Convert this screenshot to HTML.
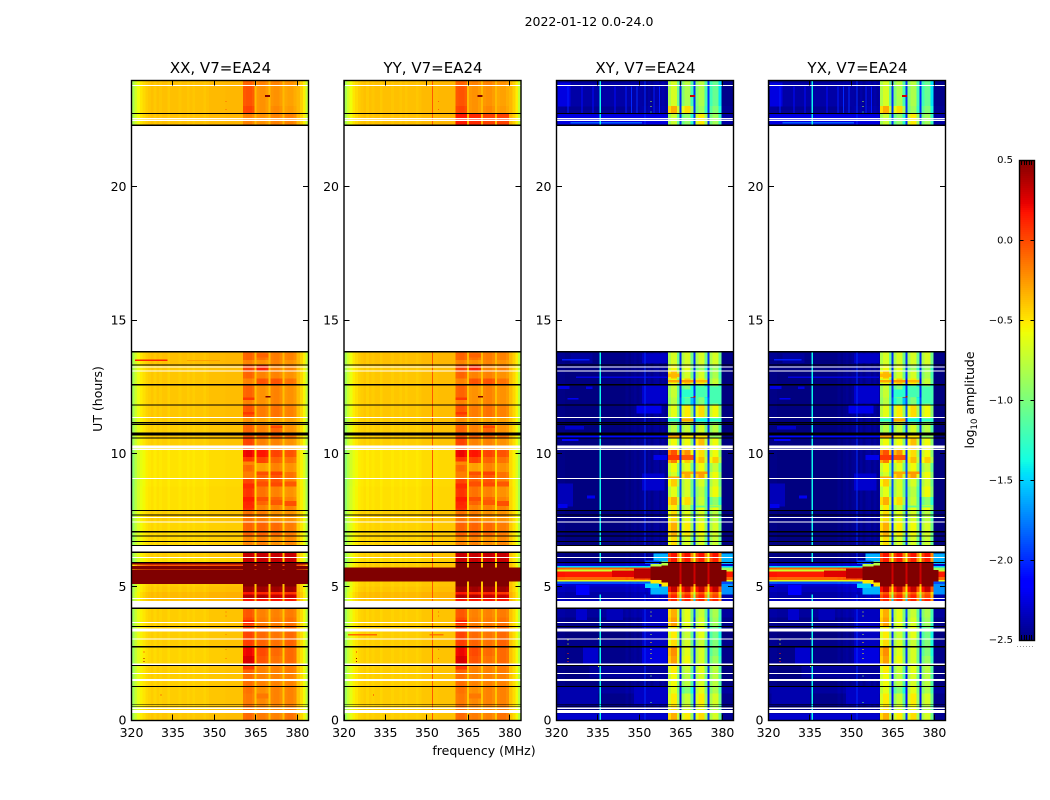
<!DOCTYPE html>
<html lang="en">
<head>
<meta charset="utf-8">
<title>2022-01-12 spectrogram panels</title>
<style>
html,body{margin:0;padding:0;background:#fff}
svg{display:block}
text{font-family:"DejaVu Sans","Liberation Sans",sans-serif;fill:#000}
</style>
</head>
<body>
<svg id="figure" xmlns="http://www.w3.org/2000/svg" width="1050" height="800" viewBox="0 0 1050 800">
  <rect x="0" y="0" width="1050" height="800" fill="#fff"/>
  <text x="589" y="26" font-size="12.5" text-anchor="middle">2022-01-12 0.0-24.0</text>
  <text x="484" y="755" font-size="12.5" text-anchor="middle">frequency (MHz)</text>
  <text transform="translate(102,399) rotate(-90)" font-size="12.5" text-anchor="middle">UT (hours)</text>
  <text transform="translate(974,400) rotate(-90)" font-size="12.5" text-anchor="middle">log<tspan font-size="8.5" dy="3">10</tspan><tspan dy="-3"> amplitude</tspan></text>
  <g id="panels"></g>
  <g id="colorbar"></g>
</svg>
<script>
/* ---------- data ---------- */
const panelTitles = ['XX, V7=EA24', 'YY, V7=EA24', 'XY, V7=EA24', 'YX, V7=EA24'];
const xTicks = [320, 335, 350, 365, 380];
const yTicks = [0, 5, 10, 15, 20];
const colorbarTicks = [0.5, 0, -0.5, -1, -1.5, -2, -2.5];

/* frequency channel edges (MHz) */
const freqEdges = [320,321,322,323,324,325,326,327,328,329,330,331,332,333,334,335,336,337,338,339,
  340,341,342,343,344,345,346,347,348,349,350,351,352,353,354,355,356,357,358,359,360,360.4,
  361.4,362.5,363.5,364.5,365.2,366.3,367.4,368.5,369.6,370.25,371.35,372.45,373.55,374.6,
  375.3,376.4,377.5,378.6,379.7,381,382,383,384];
/* -1 off band, 0..3 receiver band, 9 gap between bands */
const channelBand = [-1,-1,-1,-1,-1,-1,-1,-1,-1,-1,-1,-1,-1,-1,-1,-1,-1,-1,-1,-1,
  -1,-1,-1,-1,-1,-1,-1,-1,-1,-1,-1,-1,-1,-1,-1,-1,-1,-1,-1,-1,-1,
  0,0,0,0,9,1,1,1,1,9,2,2,2,2,9,3,3,3,3,-1,-1,-1,-1];
/* log amplitude offset per channel */
const parallelSpectrum = [-.45,-.3,-.2,-.12,-.08,-.04,-.02,0,-.03,0,-.02,0,0,-.03,0,0,0,-.02,0,0,
  -.02,0,-.02,0,0,0,-.02,0,.02,.02,.02,.02,.02,.02,.03,.03,.03,.03,.03,.03,.03,
  0,.02,.02,-.02,.02,0,.02,.02,-.02,.02,0,.02,.02,-.02,.02,0,.02,.02,-.02,.03,-.05,-.15,-.35];
const crossSpectrum = [.02,.02,.02,0,0,0,0,0,0,0,0,0,0,0,0,0,0,0,0,0,
  0,0,0,0,0,.03,0,.03,.05,.02,.05,.06,.03,.07,.03,.07,.08,.04,.08,.04,.08,
  -.12,.03,.03,-.35,0,-.12,.03,.03,-.35,0,-.12,.03,.03,-.35,0,-.12,.03,.03,-.35,0,0,0,0];

/* time row edges (UT hours) */
const utEdges = [0,.27,.57,1,1.26,1.75,2.05,2.4,2.74,3.03,3.5,3.85,4.19,4.56,4.7,4.8,5,5.1,5.19,5.25,
  5.37,5.57,5.62,5.65,5.72,5.78,5.83,5.9,6.1,6.3,6.55,6.9,7.42,7.85,8.06,8.37,8.75,9.06,9.3,9.63,
  9.87,10.15,10.3,10.6,10.79,11.09,11.34,11.82,12.1,12.57,12.8,13.1,13.32,13.5,13.81,22.31,22.74,23.02,23.77,24];

/* levels per time row: XX */
const xxOff = [-.4,-.42,-.42,-.42,-.42,-.42,-.44,-.44,-.42,-.42,
  -.42,-.42,-.38,-.36,-.36,-.4,-.42,.6,.6,.6,
  .6,.6,-.05,.6,.6,-.05,.6,-.48,-.42,-.4,
  -.45,-.45,-.42,-.48,-.48,-.48,-.49,-.49,-.49,-.49,
  -.49,-.45,-.42,-.4,-.42,-.42,-.4,-.4,-.4,-.4,
  -.4,-.4,-.38,-.38,null,-.38,-.38,-.38,-.38];
const xxBand1 = [-.12,-.15,-.17,-.15,-.14,-.1,.25,.2,.02,0,
  -.02,-.06,.15,.35,.15,.4,.6,.6,.6,.6,
  .6,.6,.6,.6,.6,.6,.6,.3,.3,.1,
  -.22,-.1,-.15,.05,.1,.05,0,-.2,-.12,.05,
  .2,0,0,-.05,-.1,-.25,-.05,-.2,-.1,-.2,
  -.1,0,-.2,-.1,null,-.2,0,-.05,-.1];
const xxBand2 = [-.18,-.22,-.22,-.24,-.2,-.2,-.05,-.02,-.1,-.12,
  -.18,-.2,.15,.35,.1,.4,.6,.6,.6,.6,
  .6,.6,.6,.6,.6,.6,.6,.3,.3,.05,
  -.2,-.1,-.18,-.2,-.1,-.15,-.1,-.1,-.3,0,
  .15,-.2,-.2,-.1,-.2,-.3,-.18,-.25,-.25,-.05,
  -.2,.1,-.25,-.15,null,-.25,-.25,-.25,-.2];
const xxBand3 = [-.2,-.22,-.2,-.2,-.2,-.2,-.15,-.12,-.15,-.16,
  -.18,-.2,.15,.3,.1,.4,.6,.6,.6,.6,
  .6,.6,.6,.6,.6,.6,.6,.3,.3,.05,
  -.25,-.12,-.25,-.2,-.1,-.2,-.05,-.05,-.2,-.1,
  0,-.2,-.2,-.1,-.1,-.3,-.15,-.2,-.2,-.05,
  -.2,-.2,-.2,-.18,null,-.2,-.22,-.25,-.2];
const xxBand4 = [-.15,-.2,-.2,-.2,-.2,-.18,-.12,-.12,-.1,-.12,
  -.15,-.18,.15,.3,.05,.4,.6,.6,.6,.6,
  .6,.6,.6,.6,.6,.6,.6,.3,.3,.05,
  -.22,-.18,-.25,-.2,-.2,-.25,-.2,-.15,-.25,-.15,
  -.05,-.3,-.25,-.15,-.25,-.3,-.2,-.25,-.25,-.15,
  -.25,-.2,-.25,-.2,null,-.2,-.28,-.3,-.25];

/* YY off-band level; bands reuse XX with the top-row override patches below */
const yyOff = [-.42,-.42,-.42,-.42,-.42,-.42,-.42,-.42,-.42,-.42,
  -.42,-.42,-.38,-.36,-.36,-.4,-.42,-.42,.6,.6,
  .6,.6,.6,.6,-.42,-.42,-.42,-.46,-.42,-.4,
  -.44,-.44,-.42,-.48,-.48,-.48,-.49,-.49,-.49,-.49,
  -.49,-.45,-.42,-.4,-.42,-.42,-.4,-.4,-.4,-.4,
  -.4,-.4,-.38,-.38,null,-.38,-.38,-.38,-.38];

/* XY (YX is nearly identical) */
const xyOff = [-2.45,-2.5,-2.47,-2.42,-2.5,-2.5,-2.47,-2.47,-2.47,-2.5,
  -2.47,-2.42,-2.35,-2.4,-2.4,-2.35,-2.3,-1.9,-.6,-.1,
  .15,-.7,-.7,-.1,-1.5,-2.3,-2.4,-2.5,-2.5,-2.5,
  -2.5,-2.5,-2.5,-2.5,-2.5,-2.5,-2.5,-2.5,-2.5,-2.5,
  -2.5,-2.5,-2.5,-2.5,-2.5,-2.5,-2.5,-2.5,-2.5,-2.5,
  -2.5,-2.5,-2.5,-2.47,null,-2.4,-2.45,-2.47,-2.47];
const xyGap = [-2,-2.1,-2.1,-2.1,-2.1,-2,-2,-2,-2,-2,
  -2,-1.9,-1.5,-.9,-.7,-.5,-.3,.3,.3,.3,
  .3,.3,.3,.3,.3,.3,.3,-.6,-.6,-1.5,
  -2,-2,-2,-2,-2,-1.9,-1.9,-1.9,-1.9,-2,
  -2,-1.9,-2,-2.4,-2,-2,-1.9,-1.9,-2,-2.1,
  -2,-2,-2,-2,null,-2,-2,-2,-2];
const xyBand1 = [-.35,-.5,-.55,-.65,-.6,-.55,-.3,-.25,-.5,-.55,
  -.3,-.35,.1,.1,-.05,.3,.6,.6,.6,.6,
  .6,.6,.6,.6,.6,.6,.6,.12,.15,-.2,
  -.5,-.35,-.5,-.55,-.35,-.65,-.45,-.7,-.6,-.2,
  -.05,-.6,-.6,-2.4,-.8,-.85,-.65,-.8,-.75,-.6,
  -.4,-.6,-.7,-.7,null,-.75,-.35,-.7,-.7];
const xyBand2 = [-.55,-.7,-.75,-1,-.8,-.75,-.6,-.65,-.7,-.75,
  -.65,-.65,.1,.1,-.05,.3,.6,.6,.6,.6,
  .6,.6,.6,.6,.6,.6,.6,.12,.15,-.3,
  -.7,-.55,-.65,-.75,-.5,-.7,-.7,-.35,-.65,-.45,
  -.25,-.6,-.6,-2.4,-.75,-.7,-.55,-1.2,-1,-.45,
  -.7,-.65,-.7,-.7,null,-.95,-.5,-.85,-.8];
const xyBand3 = [-.5,-.6,-.55,-.65,-.7,-.65,-.7,-.7,-.75,-.65,
  -.7,-.75,.1,.1,-.05,.3,.6,.6,.6,.6,
  .6,.6,.6,.6,.6,.6,.6,.1,.15,-.3,
  -.7,-.6,-.7,-.65,-.75,-.8,-.7,-.3,-.6,-.4,
  -.5,-.4,-.4,-2.4,-.7,-1,-.5,-1,-1.1,-.55,
  -.7,-.9,-.7,-.7,null,-.55,-.9,-.85,-.8];
const xyBand4 = [-.7,-.8,-.7,-.85,-.8,-.8,-.9,-1,-1,-1.05,
  -.9,-.85,.1,0,-.1,.3,.6,.6,.6,.6,
  .6,.6,.6,.6,.6,.6,.6,.1,.15,-.3,
  -.75,-.7,-.8,-.6,-.95,-.6,-.7,-.6,-.75,-.45,
  -.6,-.6,-.6,-2.4,-.8,-.9,-.6,-1,-1,-.75,
  -.85,-.9,-.7,-.7,null,-.9,-1,-1.1,-1.1];

/* missing-data rows (UT hours): [from, to] */
const whiteRows = [[23.77,23.82],[22.54,22.58],[22.47,22.52],[13.21,13.25],[13.06,13.1],[11.32,11.36],
  [10.19,10.3],[10.13,10.17],[9.04,9.08],[7.58,7.62],[7.4,7.44],[6.3,6.54],[6.08,6.12],[4.54,4.58],
  [4.22,4.47],[3.64,3.68],[3.32,3.44],[3.01,3.05],[2.07,2.11],[1.73,1.77],[1.46,1.53],[.27,.38],[.41,.46]];
const blackRows = [[22.72,22.76],[22.27,22.33],[13.78,13.84],[13.3,13.34],[12.54,12.6],[11.8,11.84],
  [11.13,11.17],[11.07,11.11],[10.66,10.79],[10.56,10.6],[7.83,7.87],[7.67,7.71],[7.04,7.08],[6.88,6.92],
  [6.67,6.71],[6.53,6.57],[6.27,6.31],[5.89,5.93],[4.17,4.21],[3.49,3.53],[2.71,2.77],[2.03,2.07],
  [1.24,1.28],[.56,.59],[.5,.53]];

/* localized features: [utFrom, utTo, freqFrom, freqTo, logAmp] */
const parallelStripes = [
  [9.56,9.69,360.4,364.5,-.2],[9.12,9.31,360.4,364.5,-.17],[8.69,8.87,360.4,364.5,.1],[8.19,8.37,360.4,364.5,.15],[7.94,8.06,360.4,364.5,.1],
  [9.19,9.31,365.2,369.6,-.02],[8.75,8.94,365.2,369.6,-.02],[8.22,8.37,365.2,369.6,-.02],
  [9.19,9.31,370.25,374.6,.02],[8.76,8.9,370.25,374.6,0],[8.06,8.25,370.25,374.6,-.05],
  [8.75,8.94,375.3,379.7,-.05],[8.03,8.21,375.3,379.7,-.02],
  [12.0,12.1,360.4,364.5,.05],[13.6,13.75,365.2,369.6,-.08],[11.45,11.55,360.4,364.5,.05],[10.95,11.03,370.25,374.6,.0],
  [3.6,3.75,360.4,364.5,.1],[1.9,2.03,360.4,364.5,.05],[.8,1,365.2,369.6,-.15]];
const crossStripes = [
  [12.87,13,360.4,364.5,-.35],[12.65,12.75,360.4,364.5,-.3],[12.65,12.75,365.2,369.6,-.25],[12.65,12.75,370.25,374.6,-.35],
  [12.12,12.4,365.2,369.6,-1.3],[12.12,12.5,370.25,374.6,-1.2],[11.87,12.5,375.3,379.7,-1.2],
  [11.2,11.3,365.2,369.6,-.3],[11.2,11.3,360.4,364.5,-1.3],[11.2,11.3,370.25,374.6,-1.4],[11.2,11.3,375.3,379.7,-1.3],
  [9.75,9.94,360.4,364.5,.05],[9.75,9.94,365.2,369.6,-.05],[9.22,9.32,365.2,369.6,-.3],[9.22,9.32,370.25,374.6,-.25],
  [9.06,9.14,360.4,364.5,-.3],[7.96,8.04,370.25,374.6,-1.1],[7.96,8.05,375.3,379.7,-1],
  [10.6,10.66,320,360.4,-2.1],[10.6,10.66,360.4,364.5,-.3],[10.6,10.66,365.2,369.6,-.5],[10.6,10.66,370.25,374.6,-.5],[10.6,10.66,375.3,379.7,-.9]];
const xxPatches = [[13.46,13.52,321.3,333,.12],[23.37,23.43,368.2,370,.6],[12.09,12.15,368.5,370.2,.6],
  [13.46,13.5,340,352,-.28],[2.71,2.77,320,384,.5]];
const yyPatches = [[3.16,3.22,321.4,332,-.1],[23.37,23.43,368.2,370,.5],[12.09,12.15,368.5,370.2,.5],
  [3.16,3.22,351,356,-.15],[22.31,22.74,360.4,364.5,.15],[22.31,22.74,365.2,369.6,.1],
  [22.31,22.74,370.25,374.6,.02],[22.31,22.74,375.3,379.7,.02]];
const crossPatches = [
  [13.38,13.75,325,333,-2.42],[13.48,13.53,322,332,-2.05],[13.38,13.75,351,360,-2.32],
  [12.42,12.52,320.5,324.7,-2.25],[12.42,12.5,330.7,333,-2.25],[12.02,12.08,324,328,-2.2],[11.87,12.56,351,360,-2.3],
  [11.5,11.81,349,358,-2.22],[10.9,11.02,323,330,-2.3],[10.47,10.53,322,328,-2.15],
  [9.75,9.94,355,360,-2.22],[8.6,9.25,351,359,-2.3],[8,8.87,320.5,326,-2.35],[8.3,8.42,331,334,-2.2],
  [7.95,8.1,320.5,324,-2.22],[12.82,12.88,327,360,-2.25],[4.69,5.06,327,332,-2.15],
  [3.75,4.19,327,331,-2.3],[3.75,4.19,338,344,-2.35],[2.75,4.19,351,360,-2.33],[2.1,2.75,329.5,335,-2.3],
  [2.1,2.75,351,360,-2.25],[1.6,2.06,332,360,-2.42],[.6,1.25,321,335,-2.38],[.6,1.25,348,360,-2.32],
  [0,.25,320,360,-2.3],[23,23.9,320.5,325,-2.25],[23,23.9,325,351,-2.4],[22.31,22.75,320.5,360,-2.25],
  [22.37,22.43,325,351,-1.85],
  [5.37,5.6,340,348,.25],[5.3,5.68,348,354,.35],[5.25,5.75,354,358,.5],[5.15,5.8,358,360.4,.6],
  [5.1,5.25,354,358,-.5],[5.75,5.85,354,358,-.8],[5,5.15,358,360.4,-.5],[5.8,5.95,358,360.4,-.8],
  [5.95,6.25,355,360.4,-1.6],[5.85,5.98,352,357,-1.9],[4.7,5,354,360.4,-1.6],[4.95,5.12,352,357,-1.5],
  [5.19,5.62,379.7,381.5,.5],[5.62,5.72,379.7,384,-.9],[5.85,6.25,379.7,384,-1.6],[4.7,5.1,379.7,384,-1.7],
  [23.37,23.43,368.2,370,.3],[12.09,12.15,368.5,370.2,.3]];

/* vertical interference lines: [freqMHz, widthMHz, logAmp] */
const crossLines = [[335.8,.5,-1.4],[352,.5,-2]];
const yyLines = [[351.9,.3,-.05]];
const crossTopStreaks = [[324,.35,-2.05],[329,.35,-2.1],[333,.35,-2.1],[341,.35,-2.1],[345,.35,-2.05],[347,.35,-2],[349,.35,-2],[355,.35,-2.05],[357,.35,-2.05]];
const crossLineSpans = [[0,4.7],[5.9,13.81],[22.31,24]];
const yyLineSpans = [[0,5.19],[5.72,13.81],[22.31,24]];

/* isolated flagged samples: [ut, freqMHz, logAmp] */
const parallelDots = [[.93,330.4,.1],[2.2,324.3,.4],[2.3,324.3,.4],[2.55,324.3,.1],[.3,353.9,-.1],[1.25,353.9,-.1],
  [2.3,353.9,-.15],[2.65,353.9,-.15],[3.2,353.9,-.15],[3.9,353.9,-.1],[4.05,353.9,-.1],[23.2,353.9,-.1],[22.9,353.9,-.1]];
const crossDots = [[3,324,-.7],[2.85,324,-.7],[2.5,324,.1],[2.3,324,-.5],[2.2,324,.1],[.3,353.9,-.8],[.65,353.9,-1],
  [1.25,353.9,-.2],[1.65,353.9,-1],[2.3,353.9,-.6],[2.5,353.9,-.6],[2.65,353.9,-.6],[2.9,353.9,-.5],[3.2,353.9,-.8],
  [3.9,353.9,-.7],[4.05,353.9,-.7],[23.2,353.9,-.8],[23,353.9,-.8],[22.8,353.9,-1.2],[3.05,335,-.6],[2,335,-.6]];

/* ---------- scales ---------- */
const NS = 'http://www.w3.org/2000/svg';
const panelLefts = [131.5, 344, 556.5, 768.5];
const panelWidth = 177, plotTop = 80, plotBottom = 720;
const xLo = 320, xHi = 384, yLo = 0, yHi = 24;
function xScale(left, f) { return left + (f - xLo) * panelWidth / (xHi - xLo); }
function yScale(h) { return plotBottom - (h - yLo) * (plotBottom - plotTop) / (yHi - yLo); }

function interp(n, pts) {
  for (let i = 1; i < pts.length; i++) {
    if (n <= pts[i][0]) {
      const a = pts[i - 1], b = pts[i];
      return a[1] + (b[1] - a[1]) * (n - a[0]) / (b[0] - a[0]);
    }
  }
  return pts[pts.length - 1][1];
}
function jet(v) {
  const n = Math.max(0, Math.min(1, (v + 2.5) / 3));
  const r = interp(n, [[0,0],[.35,0],[.66,1],[.89,1],[1,.5]]);
  const g = interp(n, [[0,0],[.125,0],[.375,1],[.64,1],[.91,0],[1,0]]);
  const b = interp(n, [[0,.5],[.11,1],[.34,1],[.65,0],[1,0]]);
  return 'rgb(' + Math.round(r * 255) + ',' + Math.round(g * 255) + ',' + Math.round(b * 255) + ')';
}
function addRect(parent, x, y, w, h, fill) {
  const el = document.createElementNS(NS, 'rect');
  el.setAttribute('x', x.toFixed(2));
  el.setAttribute('y', y.toFixed(2));
  el.setAttribute('width', w.toFixed(2));
  el.setAttribute('height', h.toFixed(2));
  el.setAttribute('fill', fill);
  el.setAttribute('shape-rendering', 'crispEdges');
  parent.appendChild(el);
  return el;
}
function addLine(parent, x1, y1, x2, y2) {
  const el = document.createElementNS(NS, 'line');
  el.setAttribute('x1', x1);
  el.setAttribute('y1', y1);
  el.setAttribute('x2', x2);
  el.setAttribute('y2', y2);
  el.setAttribute('stroke', '#000');
  el.setAttribute('stroke-width', '1');
  el.setAttribute('shape-rendering', 'crispEdges');
  parent.appendChild(el);
  return el;
}
function addText(parent, x, y, str, anchor, size) {
  const el = document.createElementNS(NS, 'text');
  el.setAttribute('x', x);
  el.setAttribute('y', y);
  el.setAttribute('font-size', size);
  el.setAttribute('text-anchor', anchor);
  el.textContent = str;
  parent.appendChild(el);
  return el;
}

/* ---------- panels ---------- */
const parallelBands = [xxBand1, xxBand2, xxBand3, xxBand4];
const crossBands = [xyBand1, xyBand2, xyBand3, xyBand4];
const crossAllPatches = crossPatches.concat(crossStripes);
const crossAllLines = crossLines;
const panelConfigs = [
  { key: 'xx', off: xxOff, gap: xxOff, bands: parallelBands, spectrum: parallelSpectrum, patches: parallelStripes.concat(xxPatches), lines: [], spans: [], streaks: [], dots: parallelDots },
  { key: 'yy', off: yyOff, gap: yyOff, bands: parallelBands, spectrum: parallelSpectrum, patches: parallelStripes.concat(yyPatches), lines: yyLines, spans: yyLineSpans, streaks: [], dots: parallelDots },
  { key: 'xy', off: xyOff, gap: xyGap, bands: crossBands, spectrum: crossSpectrum, patches: crossAllPatches, lines: crossAllLines, spans: crossLineSpans, streaks: crossTopStreaks, dots: crossDots },
  { key: 'yx', off: xyOff, gap: xyGap, bands: crossBands, spectrum: crossSpectrum, patches: crossAllPatches, lines: crossAllLines, spans: crossLineSpans, streaks: crossTopStreaks, dots: crossDots }
];

const panelsRoot = document.getElementById('panels');
panelConfigs.forEach(function (cfg, p) {
  const left = panelLefts[p];
  const right = left + panelWidth;
  const g = document.createElementNS(NS, 'g');
  
  
  panelsRoot.appendChild(g);

  const heat = document.createElementNS(NS, 'g');
  
  
  g.appendChild(heat);

  for (let r = 0; r < utEdges.length - 1; r++) {
    if (cfg.off[r] === null) continue;
    const yTop = yScale(utEdges[r + 1]);
    const yBot = yScale(utEdges[r]);
    for (let c = 0; c < freqEdges.length - 1; c++) {
      const kind = channelBand[c];
      let base;
      if (kind === 9) base = cfg.gap[r];
      else if (kind >= 0) base = cfg.bands[kind][r];
      else base = cfg.off[r];
      const v = base >= 0.5 ? base : base + cfg.spectrum[c];
      const x0 = xScale(left, freqEdges[c]);
      const x1 = xScale(left, freqEdges[c + 1]);
      const cell = addRect(heat, x0, yTop, x1 - x0, yBot - yTop, jet(v));
      
      
    }
  }

  cfg.patches.forEach(function (pt) {
    const x0 = xScale(left, pt[2]);
    const x1 = xScale(left, pt[3]);
    const y0 = yScale(pt[1]);
    const y1 = yScale(pt[0]);
    const el = addRect(g, x0, y0, x1 - x0, y1 - y0, jet(pt[4]));
    
    
  });

  cfg.streaks.forEach(function (st) {
    const el = addRect(g, xScale(left, st[0]), yScale(23.75), 1, yScale(22.76) - yScale(23.75), jet(st[2]));
    
    
  });

  cfg.lines.forEach(function (ln) {
    cfg.spans.forEach(function (sp) {
      const x0 = xScale(left, ln[0] - ln[1] / 2);
      const x1 = xScale(left, ln[0] + ln[1] / 2);
      const el = addRect(g, x0, yScale(sp[1]), Math.max(1, x1 - x0), yScale(sp[0]) - yScale(sp[1]), jet(ln[2]));
      
      
    });
  });

  cfg.dots.forEach(function (d) {
    const el = addRect(g, xScale(left, d[1]), yScale(d[0]) - 0.5, 1, 1, jet(d[2]));
    
    
  });

  whiteRows.forEach(function (w) {
    const el = addRect(g, left, yScale(w[1]), panelWidth, yScale(w[0]) - yScale(w[1]), '#fff');
    
    
  });
  blackRows.forEach(function (b) {
    const el = addRect(g, left, yScale(b[1]), panelWidth, yScale(b[0]) - yScale(b[1]), '#000');
    
    
  });

  xTicks.forEach(function (t) {
    const x = Math.floor(xScale(left, t)) + 0.5;
    const tickBottom = addLine(g, x, plotBottom, x, plotBottom - 5.5);
    
    
    const tickTop = addLine(g, x, plotTop, x, plotTop + 5.5);
    
    
    const label = addText(g, xScale(left, t), plotBottom + 17, String(t), 'middle', 12.5);
    
    
  });
  yTicks.forEach(function (t) {
    const y = Math.floor(yScale(t)) + 0.5;
    const tickLeft = addLine(g, left, y, left + 5.5, y);
    
    
    const tickRight = addLine(g, right, y, right - 5.5, y);
    
    
    const label = addText(g, left - 5, yScale(t) + 4.5, String(t), 'end', 12.5);
    
    
  });

  const frame = document.createElementNS(NS, 'rect');
  frame.setAttribute('x', left);
  frame.setAttribute('y', plotTop + 0.5);
  frame.setAttribute('width', panelWidth);
  frame.setAttribute('height', plotBottom - plotTop);
  frame.setAttribute('fill', 'none');
  frame.setAttribute('stroke', '#000');
  frame.setAttribute('stroke-width', '1.4');
  
  
  g.appendChild(frame);

  const title = addText(g, left + panelWidth / 2 + 0.5, 73, panelTitles[p], 'middle', 15);
  
  
});

/* ---------- colorbar ---------- */
const cbarRoot = document.getElementById('colorbar');
const cbLeft = 1019.5, cbRight = 1034.5, cbTop = 160, cbBottom = 640, cbMin = -2.5, cbMax = 0.5;
function cbY(v) { return cbBottom - (v - cbMin) * (cbBottom - cbTop) / (cbMax - cbMin); }
for (let py = cbTop; py < cbBottom; py += 2) {
  const v = cbMax - (py + 1 - cbTop) * (cbMax - cbMin) / (cbBottom - cbTop);
  const step = addRect(cbarRoot, cbLeft, py, cbRight - cbLeft, 2, jet(v));
  
  
}
for (let k = 0; k < 5; k++) {
  const hx = Math.floor(cbLeft + 2 + k * 2.6) + 0.5;
  const hatchTop = addLine(cbarRoot, hx, cbTop, hx, cbTop + 5);
  
  
  const hatchBottom = addLine(cbarRoot, hx, cbBottom, hx, cbBottom - 5);
  
  
}
colorbarTicks.forEach(function (t) {
  const y = Math.floor(cbY(t)) + 0.5;
  const tl = addLine(cbarRoot, cbLeft, y, cbLeft + 4, y);
  
  
  const tr = addLine(cbarRoot, cbRight, y, cbRight - 4, y);
  
  
  const label = addText(cbarRoot, 1013, cbY(t) + (t === 0.5 ? 3 : t === -2.5 ? 3 : 3.5), t.toFixed(1).replace('-', '\u2212'), 'end', 10);
  
  
});
const cbFrame = document.createElementNS(NS, 'rect');
cbFrame.setAttribute('x', cbLeft);
cbFrame.setAttribute('y', cbTop + 0.5);
cbFrame.setAttribute('width', cbRight - cbLeft);
cbFrame.setAttribute('height', cbBottom - cbTop);
cbFrame.setAttribute('fill', 'none');
cbFrame.setAttribute('stroke', '#000');
cbFrame.setAttribute('stroke-width', '1.4');


cbarRoot.appendChild(cbFrame);
const cbDots = document.createElementNS(NS, 'line');
cbDots.setAttribute('x1', 1017);
cbDots.setAttribute('y1', 646.5);
cbDots.setAttribute('x2', 1034);
cbDots.setAttribute('y2', 646.5);
cbDots.setAttribute('stroke', '#999');
cbDots.setAttribute('stroke-width', '1');
cbDots.setAttribute('stroke-dasharray', '1 2');


cbarRoot.appendChild(cbDots);
</script>
</body>
</html>
